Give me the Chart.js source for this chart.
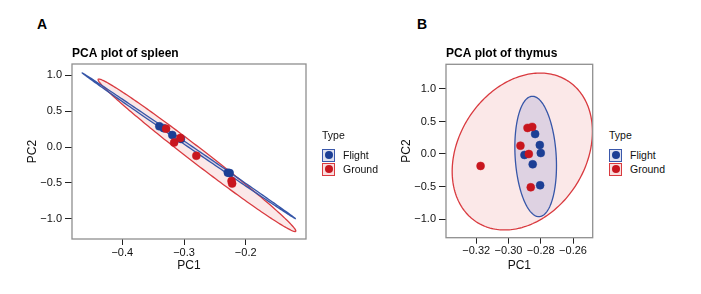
<!DOCTYPE html>
<html>
<head>
<meta charset="utf-8">
<script src="https://cdn.jsdelivr.net/npm/chart.js@4.4.1/dist/chart.umd.min.js"></script>
<style>
  body { margin: 0; background: #fff; width: 701px; height: 294px; overflow: hidden; position: relative;
         font-family: "Liberation Sans", Arial, sans-serif; color: #111; }
  canvas { position: absolute; top: 0; }
  #chartA { left: 0; }
  #chartB { left: 374px; }
  .panel { position: absolute; top: 17px; font-size: 14px; font-weight: bold; line-height: 14px; color: #000; }
  .legend { position: absolute; top: 128px; font-size: 10.5px; color: #111; }
  .legend .ltitle { height: 15px; line-height: 15px; margin-bottom: 5px; }
  .legend .row { height: 14px; display: flex; align-items: center; }
  .legend .key { width: 13px; height: 13px; box-sizing: border-box; border: 1.5px solid; margin-right: 8px;
                 display: flex; align-items: center; justify-content: center; }
  .legend .key i { width: 8px; height: 8px; border-radius: 50%; display: block; }
  .key.flight { border-color: #3a58ab; background: #dfe2f0; }
  .key.flight i { background: #1c3f95; }
  .key.ground { border-color: #d93a3f; background: #f9dede; }
  .key.ground i { background: #c8161f; }
</style>
</head>
<body>
<div class="panel" style="left:37px">A</div>
<div class="panel" style="left:417px">B</div>
<canvas id="chartA" width="315" height="294"></canvas>
<canvas id="chartB" width="225" height="294"></canvas>
<div class="legend" style="left:322px">
  <div class="ltitle">Type</div>
  <div class="row"><span class="key flight"><i></i></span>Flight</div>
  <div class="row"><span class="key ground"><i></i></span>Ground</div>
</div>
<div class="legend" style="left:609px">
  <div class="ltitle">Type</div>
  <div class="row"><span class="key flight"><i></i></span>Flight</div>
  <div class="row"><span class="key ground"><i></i></span>Ground</div>
</div>
<script>
// spleen (panel A)
const spleenFlightPC1 = [-0.340, -0.333, -0.319, -0.305, -0.229, -0.226];
const spleenFlightPC2 = [0.288, 0.262, 0.167, 0.112, -0.356, -0.362];
const spleenGroundPC1 = [-0.329, -0.316, -0.306, -0.280, -0.223, -0.222];
const spleenGroundPC2 = [0.255, 0.061, 0.125, -0.122, -0.472, -0.508];
// ellipse: centre x, centre y, half-axis u (x, y), half-axis v (x, y)
const spleenFlightEllipse = [-0.2922, 0.0167, 0.1726, -1.011, -0.0012, -0.0149];
const spleenGroundEllipse = [-0.279, -0.115, 0.160, -1.056, -0.0074, -0.0825];
const spleenXTicks = [-0.4, -0.3, -0.2];
const spleenYTicks = [-1.0, -0.5, 0.0, 0.5, 1.0];

// thymus (panel B)
const thymusFlightPC1 = [-0.2835, -0.2806, -0.2800, -0.2901, -0.2850, -0.2804];
const thymusFlightPC2 = [0.307, 0.138, 0.015, -0.015, -0.158, -0.481];
const thymusGroundPC1 = [-0.2882, -0.2853, -0.2926, -0.2874, -0.3173, -0.2862];
const thymusGroundPC2 = [0.400, 0.415, 0.128, 0.000, -0.184, -0.512];
const thymusFlightEllipse = [-0.28316, -0.038, 0.00227, -0.925, 0.0127, 0.0192];
const thymusGroundEllipse = [-0.29145, 0.038, 0.0284, 1.083, 0.0329, -0.531];
const thymusXTicks = [-0.32, -0.30, -0.28, -0.26];
const thymusYTicks = [-1.0, -0.5, 0.0, 0.5, 1.0];

const FONT = "'Liberation Sans', Arial, sans-serif";
const BLUE = "#1c3f95", RED = "#c8161f";

const pts = (xs, ys) => xs.map((v, i) => ({ x: v, y: ys[i] }));
const fmt = (v, d) => (v < 0 ? "\u2212" : "") + Math.abs(v).toFixed(d);

const ellipsePlugin = {
  id: "ellipses",
  beforeDatasetsDraw(chart, args, opts) {
    const { ctx, chartArea: a, scales: { x, y } } = chart;
    ctx.save();
    ctx.beginPath();
    ctx.rect(a.left, a.top, a.width, a.height);
    ctx.clip();
    opts.items.forEach(e => {
      const [cx, cy, ux, uy, vx, vy] = e.params;
      ctx.beginPath();
      for (let i = 0; i <= 240; i++) {
        const t = i / 240 * Math.PI * 2;
        const px = x.getPixelForValue(cx + ux * Math.cos(t) + vx * Math.sin(t));
        const py = y.getPixelForValue(cy + uy * Math.cos(t) + vy * Math.sin(t));
        if (i) ctx.lineTo(px, py); else ctx.moveTo(px, py);
      }
      ctx.closePath();
      ctx.fillStyle = e.fill;
      ctx.fill();
      ctx.strokeStyle = e.stroke;
      ctx.lineWidth = 1.3;
      ctx.stroke();
    });
    ctx.restore();
  }
};

const boxPlugin = {
  id: "box",
  afterDatasetsDraw(chart) {
    const { ctx, chartArea: a } = chart;
    ctx.save();
    ctx.strokeStyle = "#8f8f8f";
    ctx.lineWidth = 1.3;
    ctx.strokeRect(a.left, a.top, a.width, a.height);
    ctx.restore();
  }
};

function axis(min, max, ticks, dec, label, horiz) {
  return {
    type: "linear", min, max,
    afterBuildTicks: s => { s.ticks = ticks.map(v => ({ value: v })); },
    grid: { drawOnChartArea: false, drawTicks: true, tickLength: horiz ? 6 : 7, tickColor: "#222", tickWidth: 1 },
    border: { display: false },
    ticks: { callback: v => fmt(v, dec), color: "#111", padding: horiz ? 1 : 3, font: { family: FONT, size: 11 },
             maxRotation: 0, autoSkip: false },
    title: { display: true, text: label, color: "#111", font: { family: FONT, size: 12 },
             padding: horiz ? { top: 0, bottom: 21 } : { top: 25, bottom: 0 } }
  };
}

function makeChart(id, cfg) {
  const xs = axis(cfg.xmin, cfg.xmax, cfg.xticks, cfg.xdec, "PC1", true);
  const ys = axis(cfg.ymin, cfg.ymax, cfg.yticks, 1, "PC2", false);
  xs.afterFit = s => { s.height = cfg.xh; };
  ys.afterFit = s => { s.width = 72; };
  return new Chart(document.getElementById(id), {
    type: "scatter",
    data: {
      datasets: [
        { label: "Flight", data: pts(cfg.f1, cfg.f2), backgroundColor: BLUE, borderColor: BLUE,
          borderWidth: 0.5, pointRadius: 4, order: 2 },
        { label: "Ground", data: pts(cfg.g1, cfg.g2), backgroundColor: RED, borderColor: RED,
          borderWidth: 0.5, pointRadius: 4, order: 1 }
      ]
    },
    options: {
      responsive: false,
      animation: false,
      devicePixelRatio: 1,
      layout: { padding: { left: 0, right: cfg.padRight, top: 0, bottom: 0 } },
      scales: { x: xs, y: ys },
      plugins: {
        legend: { display: false },
        tooltip: { enabled: false },
        title: { display: true, text: cfg.title, align: "start", fullSize: false, color: "#000",
                 font: { family: FONT, size: 12, weight: "bold" }, padding: { top: 46, bottom: cfg.titleBottom } },
        ellipses: { items: [
          { params: cfg.ge, stroke: "#d93a3f", fill: "rgba(236,150,150,0.22)" },
          { params: cfg.fe, stroke: "#3656a8", fill: "rgba(50,80,190,0.14)" }
        ] }
      }
    },
    plugins: [ellipsePlugin, boxPlugin]
  });
}

makeChart("chartA", {
  title: "PCA plot of spleen",
  xmin: -0.4815, xmax: -0.1023, ymin: -1.278, ymax: 1.153,
  xticks: spleenXTicks, yticks: spleenYTicks, xdec: 1,
  f1: spleenFlightPC1, f2: spleenFlightPC2, g1: spleenGroundPC1, g2: spleenGroundPC2,
  fe: spleenFlightEllipse, ge: spleenGroundEllipse,
  padRight: 9, xh: 55, titleBottom: 3.6
});

makeChart("chartB", {
  title: "PCA plot of thymus",
  xmin: -0.33874, xmax: -0.24781, ymin: -1.287, ymax: 1.379,
  xticks: thymusXTicks, yticks: thymusYTicks, xdec: 2,
  f1: thymusFlightPC1, f2: thymusFlightPC2, g1: thymusGroundPC1, g2: thymusGroundPC2,
  fe: thymusFlightEllipse, ge: thymusGroundEllipse,
  padRight: 6.3, xh: 56.3, titleBottom: 3.9
});
</script>
</body>
</html>
